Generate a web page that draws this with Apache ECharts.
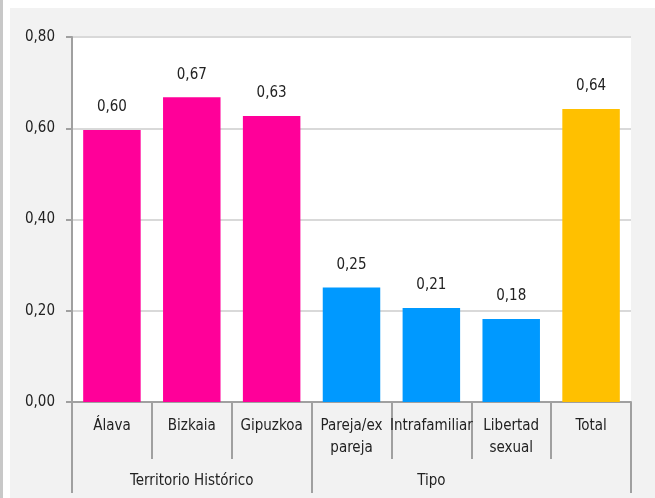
<!DOCTYPE html>
<html><head><meta charset="utf-8">
<script src="https://cdn.jsdelivr.net/npm/echarts@6/dist/echarts.min.js"></script>
<style>
html,body{margin:0;padding:0;background:#fff;}
body{width:655px;height:498px;position:relative;overflow:hidden;border-left:3px solid #c8c8c8;box-sizing:border-box;}
#c{position:absolute;left:7px;top:8px;width:645px;height:490px;background:#f2f2f2;}
</style></head>
<body><div id="c"></div>
<script>
const categories = ['Álava','Bizkaia','Gipuzkoa','Pareja/ex\npareja','Intrafamiliar','Libertad\nsexual','Total'];
const groups = ['','Territorio Histórico','','','Tipo','',''];
const values = [0.596, 0.668, 0.627, 0.251, 0.206, 0.182, 0.642];
const barColors = ['#FF0099','#FF0099','#FF0099','#0099FF','#0099FF','#0099FF','#FFC000'];
const yTicks = [0, 0.2, 0.4, 0.6, 0.8];

const FONT = "'DejaVu Sans Condensed','Liberation Sans Narrow',sans-serif";
const fmt = v => v.toFixed(2).replace('.', ',');
const chart = echarts.init(document.getElementById('c'));
chart.setOption({
  animation:false,
  textStyle:{fontFamily:FONT},
  grid:{left:62,right:24,top:29,bottom:96,show:true,backgroundColor:'#fff',borderWidth:0},
  xAxis:[{
    type:'category', data:categories, position:'bottom',
    axisLine:{show:true,lineStyle:{color:'#a0a0a0',width:2}},
    axisTick:{show:true,length:57,interval:0,lineStyle:{color:'#a0a0a0',width:2}},
    axisLabel:{interval:0,margin:13,fontSize:15,lineHeight:22,color:'#222',fontFamily:FONT}
  },{
    type:'category', data:groups, position:'bottom', gridIndex:0,
    axisLine:{show:false},
    axisTick:{show:true,length:91,interval:function(i){return i===0||i===3;},lineStyle:{color:'#a0a0a0',width:2}},
    axisLabel:{interval:0,margin:72,fontSize:15,color:'#222',fontFamily:FONT}
  }],
  yAxis:{
    type:'value', min:yTicks[0], max:yTicks[yTicks.length-1], interval:0.2,
    axisLine:{show:true,lineStyle:{color:'#a0a0a0',width:2}},
    axisTick:{show:true,length:6,lineStyle:{color:'#a0a0a0',width:2}},
    splitLine:{show:true,lineStyle:{color:'#d9d9d9',width:2}},
    axisLabel:{margin:17,fontSize:15,color:'#222',fontFamily:FONT,formatter:v=>fmt(v)}
  },
  series:[{
    type:'bar', xAxisIndex:0, barWidth:'72%',
    data: values.map((v,i)=>({value:v,itemStyle:{color:barColors[i]}})),
    label:{show:true,position:'top',distance:15,fontSize:15,color:'#222',fontFamily:FONT,formatter:p=>fmt(p.value)}
  }]
});
</script></body></html>
